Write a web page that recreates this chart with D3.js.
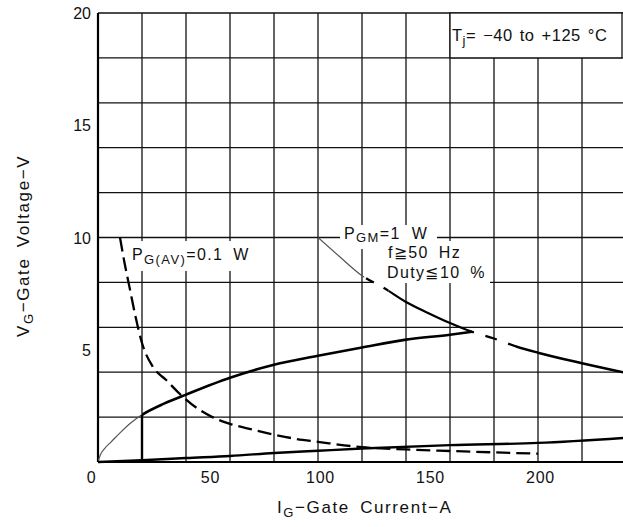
<!DOCTYPE html>
<html><head><meta charset="utf-8">
<script src="https://cdn.jsdelivr.net/npm/d3@7"></script>
<style>
body{margin:0;background:#fff}
svg{display:block}
text{font-family:"Liberation Sans",Arial,Helvetica,sans-serif;fill:#111}
</style>
</head><body>
<svg id="chart" width="623" height="527"></svg>
<script>
// ---- data ----
const xTickValues = [0, 50, 100, 150, 200];
const yTickValues = [5, 10, 15, 20];
const xGridValues = [20, 40, 60, 80, 100, 120, 140, 160, 180, 200, 220, 240];
const yGridValues = [2, 4, 6, 8, 10, 12, 14, 16, 18, 20];

// P_G(AV) = 0.1 W curve (dashed)
const pgavI = [10, 12, 14.5, 17, 20, 25, 31, 37, 45, 52, 60, 70, 81, 90, 100, 120, 140, 160, 180, 200];
const pgavV = [10, 8.9, 7.7, 6.5, 5.3, 4.23, 3.65, 3.05, 2.4, 2.0, 1.7, 1.45, 1.2, 1.03, 0.9, 0.66, 0.56, 0.49, 0.43, 0.37];

// P_GM = 1 W curve
const pgmI = [100, 110, 120, 130, 140, 150, 160, 170, 180, 190, 200, 220, 240];
const pgmV = [10, 9.13, 8.3, 7.75, 7.13, 6.64, 6.19, 5.8, 5.5, 5.15, 4.87, 4.4, 3.97];

// upper gate characteristic
const upI = [0, 1, 3, 6, 10, 15, 20, 30, 40, 60, 80, 100, 120, 140, 160, 170];
const upV = [0, 0.3, 0.6, 0.9, 1.3, 1.75, 2.1, 2.6, 3.0, 3.75, 4.33, 4.73, 5.1, 5.45, 5.67, 5.8];

// lower gate characteristic
const loI = [0, 20, 40, 60, 80, 100, 120, 160, 200, 240];
const loV = [0, 0.08, 0.18, 0.27, 0.4, 0.5, 0.6, 0.75, 0.85, 1.08];

// minimum trigger current line
const minTrigI = 20;

// ---- scales ----
const svg = d3.select("#chart");
const x = d3.scaleLinear().domain([0, 240]).range([98, 626]);
const y = d3.scaleLinear().domain([0, 20]).range([462, 13]);

const zip = (a, b) => a.map((v, i) => [v, b[i]]);
const line = d3.line().x(d => x(d[0])).y(d => y(d[1])).curve(d3.curveMonotoneX);

// grid
const grid = svg.append("g").attr("stroke", "#111").attr("stroke-width", 1.3);
grid.selectAll("line.v").data(xGridValues).join("line")
  .attr("x1", d => x(d)).attr("x2", d => x(d)).attr("y1", y(0)).attr("y2", y(20));
grid.selectAll("line.h").data(yGridValues).join("line")
  .attr("x1", x(0)).attr("x2", x(240)).attr("y1", d => y(d)).attr("y2", d => y(d));

// axes lines
svg.append("line").attr("x1", x(0)).attr("x2", x(0)).attr("y1", y(0)).attr("y2", y(20))
  .attr("stroke", "#000").attr("stroke-width", 2.2);
svg.append("line").attr("x1", x(0)).attr("x2", x(240)).attr("y1", y(0)).attr("y2", y(0))
  .attr("stroke", "#000").attr("stroke-width", 2.2);

// label backgrounds (knock out grid)
const bg = svg.append("g").attr("fill", "#fff");
bg.append("rect").attr("x", 126).attr("y", 241).attr("width", 128).attr("height", 30);
bg.append("rect").attr("x", 340).attr("y", 225).attr("width", 97).attr("height", 24);
bg.append("rect").attr("x", 383).attr("y", 241).attr("width", 80).attr("height", 22);
bg.append("rect").attr("x", 373).attr("y", 259).attr("width", 117).attr("height", 24);
// Tj box
svg.append("rect").attr("x", x(160)).attr("y", y(20)).attr("width", 622 - x(160)).attr("height", y(18) - y(20))
  .attr("fill", "#fff").attr("stroke", "#111").attr("stroke-width", 1.3);

// clip helper
const defs = svg.append("defs");
let clipId = 0;
function clipRange(a, b) {
  const id = "cl" + (clipId++);
  defs.append("clipPath").attr("id", id).append("rect")
    .attr("x", x(a)).attr("y", 0).attr("width", x(b) - x(a)).attr("height", 527);
  return "url(#" + id + ")";
}

const curves = svg.append("g").attr("fill", "none").attr("stroke-linecap", "butt");

// PG(AV) dashed
curves.append("path").attr("d", line(zip(pgavI, pgavV)))
  .attr("stroke", "#000").attr("stroke-width", 2.3).attr("stroke-dasharray", "14,6");

// PGM curve segments
const pgmPts = zip(pgmI, pgmV);
curves.append("path").attr("d", line(pgmPts)).attr("clip-path", clipRange(100, 121))
  .attr("stroke", "#555").attr("stroke-width", 1.2);
curves.append("path").attr("d", line(pgmPts)).attr("clip-path", clipRange(121, 132))
  .attr("stroke", "#000").attr("stroke-width", 2.3).attr("stroke-dasharray", "0,3,9,8");
curves.append("path").attr("d", line(pgmPts)).attr("clip-path", clipRange(132, 170))
  .attr("stroke", "#000").attr("stroke-width", 2.3);
curves.append("path").attr("d", line(pgmPts)).attr("clip-path", clipRange(170, 190))
  .attr("stroke", "#000").attr("stroke-width", 2.3).attr("stroke-dasharray", "0,4,12,8");
curves.append("path").attr("d", line(pgmPts)).attr("clip-path", clipRange(190, 240))
  .attr("stroke", "#000").attr("stroke-width", 2.5);

// upper characteristic
const upPts = zip(upI, upV);
curves.append("path").attr("d", line(upPts)).attr("clip-path", clipRange(0, 20))
  .attr("stroke", "#555").attr("stroke-width", 1.2);
curves.append("path").attr("d", line(upPts)).attr("clip-path", clipRange(20, 171))
  .attr("stroke", "#000").attr("stroke-width", 2.6);

// lower characteristic
curves.append("path").attr("d", line(zip(loI, loV)))
  .attr("stroke", "#000").attr("stroke-width", 2.4);

// min trigger current line
curves.append("line").attr("x1", x(minTrigI)).attr("x2", x(minTrigI))
  .attr("y1", y(0)).attr("y2", y(upV[upI.indexOf(minTrigI)]))
  .attr("stroke", "#000").attr("stroke-width", 2.4);

// ---- axes (labels only) ----
const xAxis = d3.axisBottom(x).tickValues(xTickValues).tickSize(0).tickPadding(10);
const gx = svg.append("g").attr("transform", `translate(0,${y(0)})`).call(xAxis);
gx.select(".domain").remove();
gx.selectAll("text").attr("font-size", 16).attr("fill", "#111").attr("letter-spacing", 0.8)
  .attr("dx", d => d === 0 ? -7 : 2);

const yAxis = d3.axisLeft(y).tickValues(yTickValues).tickSize(0).tickPadding(7);
const gy = svg.append("g").attr("transform", `translate(${x(0)},0)`).call(yAxis);
gy.select(".domain").remove();
gy.selectAll("text").attr("font-size", 16).attr("fill", "#111").attr("dy", "0.35em");

// axis titles
const xt = svg.append("text").attr("x", 277).attr("y", 513).attr("font-size", 17)
  .attr("letter-spacing", 1.6).attr("word-spacing", 4);
xt.append("tspan").text("I");
xt.append("tspan").attr("font-size", 13).attr("dy", 4).text("G");
xt.append("tspan").attr("dy", -4).text("\u2212Gate Current\u2212A");

const yt = svg.append("text").attr("transform", "translate(29,337) rotate(-90)").attr("font-size", 17)
  .attr("letter-spacing", 1.6).attr("word-spacing", 4);
yt.append("tspan").text("V");
yt.append("tspan").attr("font-size", 13).attr("dy", 4).text("G");
yt.append("tspan").attr("dy", -4).text("\u2212Gate Voltage\u2212V");

// annotations
const t1 = svg.append("text").attr("x", 132).attr("y", 260).attr("font-size", 16)
  .attr("letter-spacing", 1.4).attr("word-spacing", 4);
t1.append("tspan").text("P");
t1.append("tspan").attr("font-size", 13).attr("dy", 4).text("G(AV)");
t1.append("tspan").attr("dy", -4).text("=0.1 W");

const t2 = svg.append("text").attr("x", 344).attr("y", 239).attr("font-size", 16)
  .attr("letter-spacing", 1.4).attr("word-spacing", 5);
t2.append("tspan").text("P");
t2.append("tspan").attr("font-size", 13).attr("dy", 3).text("GM");
t2.append("tspan").attr("dy", -3).text("=1 W");
svg.append("text").attr("x", 388).attr("y", 258).attr("font-size", 16)
  .attr("letter-spacing", 1.4).attr("word-spacing", 4).text("f\u226750 Hz");
svg.append("text").attr("x", 387).attr("y", 278).attr("font-size", 16)
  .attr("letter-spacing", 1.4).attr("word-spacing", 4).text("Duty\u226610 %");

const t3 = svg.append("text").attr("x", 452).attr("y", 41).attr("font-size", 16.5)
  .attr("letter-spacing", 0.5).attr("word-spacing", 2);
t3.append("tspan").text("T");
t3.append("tspan").attr("font-size", 13).attr("dy", 4).text("j");
t3.append("tspan").attr("dy", -4).text("= \u221240 to +125 \u00B0C");
</script>
</body></html>
